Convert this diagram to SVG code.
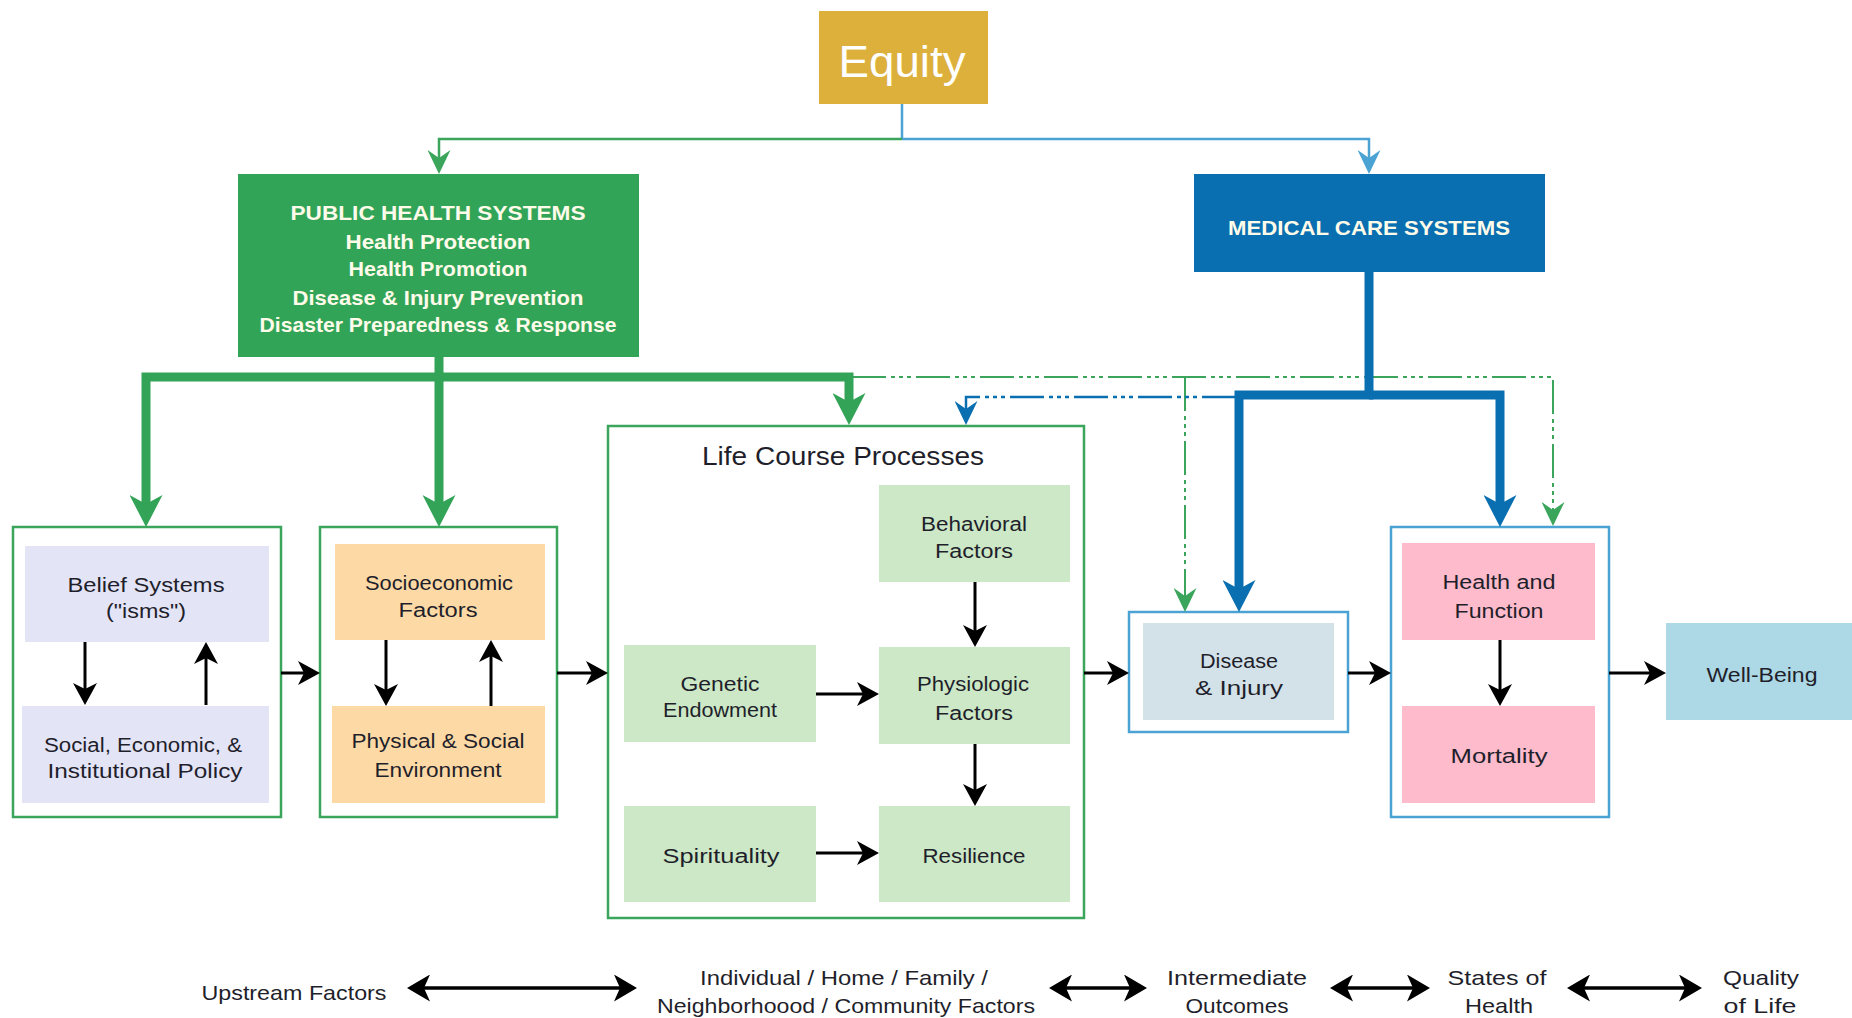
<svg xmlns="http://www.w3.org/2000/svg" width="1852" height="1018" viewBox="0 0 1852 1018">
  <style>
    text { font-family: "Liberation Sans", Arial, sans-serif; text-anchor: middle; }
    .t { font-size: 20px; fill: #1f1f2b; }
    .hdr { font-size: 21px; font-weight: bold; fill: #fffbea; }
    .bot { font-size: 21px; fill: #1f1f2b; }
    .frameG { fill: #ffffff; stroke: #3ba55c; stroke-width: 2.5; }
    .frameB { fill: #ffffff; stroke: #4ba3d3; stroke-width: 2.5; }
    .thickG { fill: none; stroke: #33a457; stroke-width: 9; }
    .thickB { fill: none; stroke: #0a6fb0; stroke-width: 9; }
    .thinG { fill: none; stroke: #3ba55c; stroke-width: 2.5; }
    .thinL { fill: none; stroke: #4ba3d3; stroke-width: 2.5; }
    .dashG { fill: none; stroke: #3ba55c; stroke-width: 2; stroke-dasharray: 34 5 4 4 4 4 4 5; }
    .dashB { fill: none; stroke: #0a6fb0; stroke-width: 2.5; stroke-dasharray: 34 5 4 4 4 4 4 5; }
    .blk { fill: none; stroke: #000000; stroke-width: 3; }
    .bi { fill: none; stroke: #000000; stroke-width: 3.5; }
  </style>
  <defs>
    <marker id="bigG" markerUnits="userSpaceOnUse" viewBox="0 0 32 33" markerWidth="32" markerHeight="33" refX="11" refY="16.5" orient="auto">
      <path d="M0,0 L32,16.5 L0,33 L9,16.5 z" fill="#33a457"/>
    </marker>
    <marker id="bigB" markerUnits="userSpaceOnUse" viewBox="0 0 32 33" markerWidth="32" markerHeight="33" refX="11" refY="16.5" orient="auto">
      <path d="M0,0 L32,16.5 L0,33 L9,16.5 z" fill="#0a6fb0"/>
    </marker>
    <marker id="medG" markerUnits="userSpaceOnUse" viewBox="0 0 24 23" markerWidth="24" markerHeight="23" refX="10" refY="11.5" orient="auto">
      <path d="M0,0 L24,11.5 L0,23 L8,11.5 z" fill="#3ba55c"/>
    </marker>
    <marker id="medL" markerUnits="userSpaceOnUse" viewBox="0 0 24 23" markerWidth="24" markerHeight="23" refX="10" refY="11.5" orient="auto">
      <path d="M0,0 L24,11.5 L0,23 L8,11.5 z" fill="#4ba3d3"/>
    </marker>
    <marker id="medB" markerUnits="userSpaceOnUse" viewBox="0 0 24 23" markerWidth="24" markerHeight="23" refX="10" refY="11.5" orient="auto">
      <path d="M0,0 L24,11.5 L0,23 L8,11.5 z" fill="#0a6fb0"/>
    </marker>
    <marker id="blk" markerUnits="userSpaceOnUse" viewBox="0 0 22 24" markerWidth="22" markerHeight="24" refX="8" refY="12" orient="auto">
      <path d="M0,0 L22,12 L0,24 L6,12 z" fill="#000000"/>
    </marker>
    <marker id="bi" markerUnits="userSpaceOnUse" viewBox="0 0 23 27" markerWidth="23" markerHeight="27" refX="8" refY="13.5" orient="auto-start-reverse">
      <path d="M0,0 L23,13.5 L0,27 L6,13.5 z" fill="#000000"/>
    </marker>
  </defs>

  <rect width="1852" height="1018" fill="#ffffff"/>

  <g id="equity">
    <rect x="819" y="11" width="169" height="93" fill="#ddb03c"/>
    <text x="902" y="77" font-size="44" fill="#ffffff" textLength="127" lengthAdjust="spacingAndGlyphs">Equity</text>
  </g>

  <g id="public-health">
    <rect x="238" y="174" width="401" height="183" fill="#32a457"/>
    <text class="hdr" x="438" y="220" textLength="295" lengthAdjust="spacingAndGlyphs">PUBLIC HEALTH SYSTEMS</text>
    <text class="hdr" x="438" y="249" textLength="185" lengthAdjust="spacingAndGlyphs">Health Protection</text>
    <text class="hdr" x="438" y="276" textLength="179" lengthAdjust="spacingAndGlyphs">Health Promotion</text>
    <text class="hdr" x="438" y="305" textLength="291" lengthAdjust="spacingAndGlyphs">Disease &amp; Injury Prevention</text>
    <text class="hdr" x="438" y="332" textLength="357" lengthAdjust="spacingAndGlyphs">Disaster Preparedness &amp; Response</text>
  </g>

  <g id="medical-care">
    <rect x="1194" y="174" width="351" height="98" fill="#0a6fb0"/>
    <text class="hdr" x="1369" y="235" textLength="282" lengthAdjust="spacingAndGlyphs">MEDICAL CARE SYSTEMS</text>
  </g>

  <g id="belief-policy">
    <rect class="frameG" x="13" y="527" width="268" height="290"/>
    <rect x="25" y="546" width="244" height="96" fill="#e4e4f7"/>
    <rect x="22" y="706" width="247" height="97" fill="#e4e4f7"/>
    <text class="t" x="146" y="592" textLength="157" lengthAdjust="spacingAndGlyphs">Belief Systems</text>
    <text class="t" x="146" y="618" textLength="80" lengthAdjust="spacingAndGlyphs">("isms")</text>
    <text class="t" x="143" y="752" textLength="198" lengthAdjust="spacingAndGlyphs">Social, Economic, &amp;</text>
    <text class="t" x="145" y="778" textLength="195" lengthAdjust="spacingAndGlyphs">Institutional Policy</text>
  </g>

  <g id="socio-environment">
    <rect class="frameG" x="320" y="527" width="237" height="290"/>
    <rect x="335" y="544" width="210" height="96" fill="#fdd9a5"/>
    <rect x="332" y="706" width="213" height="97" fill="#fdd9a5"/>
    <text class="t" x="439" y="590" textLength="148" lengthAdjust="spacingAndGlyphs">Socioeconomic</text>
    <text class="t" x="438" y="617" textLength="79" lengthAdjust="spacingAndGlyphs">Factors</text>
    <text class="t" x="438" y="748" textLength="173" lengthAdjust="spacingAndGlyphs">Physical &amp; Social</text>
    <text class="t" x="438" y="777" textLength="127" lengthAdjust="spacingAndGlyphs">Environment</text>
  </g>

  <g id="life-course">
    <rect class="frameG" x="608" y="426" width="476" height="492"/>
    <text x="843" y="465" font-size="26" fill="#1f1f2b" textLength="282" lengthAdjust="spacingAndGlyphs">Life Course Processes</text>
    <rect x="879" y="485" width="191" height="97" fill="#cce8c6"/>
    <rect x="879" y="647" width="191" height="97" fill="#cce8c6"/>
    <rect x="879" y="806" width="191" height="96" fill="#cce8c6"/>
    <rect x="624" y="645" width="192" height="97" fill="#cce8c6"/>
    <rect x="624" y="806" width="192" height="96" fill="#cce8c6"/>
    <text class="t" x="974" y="531" textLength="106" lengthAdjust="spacingAndGlyphs">Behavioral</text>
    <text class="t" x="974" y="558" textLength="78" lengthAdjust="spacingAndGlyphs">Factors</text>
    <text class="t" x="973" y="691" textLength="112" lengthAdjust="spacingAndGlyphs">Physiologic</text>
    <text class="t" x="974" y="720" textLength="78" lengthAdjust="spacingAndGlyphs">Factors</text>
    <text class="t" x="720" y="691" textLength="79" lengthAdjust="spacingAndGlyphs">Genetic</text>
    <text class="t" x="720" y="717" textLength="114" lengthAdjust="spacingAndGlyphs">Endowment</text>
    <text class="t" x="721" y="863" textLength="117" lengthAdjust="spacingAndGlyphs">Spirituality</text>
    <text class="t" x="974" y="863" textLength="103" lengthAdjust="spacingAndGlyphs">Resilience</text>
  </g>

  <g id="disease-injury">
    <rect class="frameB" x="1129" y="612" width="219" height="120"/>
    <rect x="1143" y="623" width="191" height="97" fill="#d3e2e9"/>
    <text class="t" x="1239" y="668" textLength="78" lengthAdjust="spacingAndGlyphs">Disease</text>
    <text class="t" x="1239" y="695" textLength="88" lengthAdjust="spacingAndGlyphs">&amp; Injury</text>
  </g>

  <g id="health-mortality">
    <rect class="frameB" x="1391" y="527" width="218" height="290"/>
    <rect x="1402" y="543" width="193" height="97" fill="#fdbbcb"/>
    <rect x="1402" y="706" width="193" height="97" fill="#fdbbcb"/>
    <text class="t" x="1499" y="589" textLength="113" lengthAdjust="spacingAndGlyphs">Health and</text>
    <text class="t" x="1499" y="618" textLength="89" lengthAdjust="spacingAndGlyphs">Function</text>
    <text class="t" x="1499" y="763" textLength="97" lengthAdjust="spacingAndGlyphs">Mortality</text>
  </g>

  <g id="well-being">
    <rect x="1666" y="623" width="186" height="97" fill="#add8e6"/>
    <text class="t" x="1762" y="682" textLength="111" lengthAdjust="spacingAndGlyphs">Well-Being</text>
  </g>

  <g id="scale-labels">
    <text class="bot" x="294" y="1000" textLength="185" lengthAdjust="spacingAndGlyphs">Upstream Factors</text>
    <text class="bot" x="844" y="985" textLength="288" lengthAdjust="spacingAndGlyphs">Individual / Home / Family /</text>
    <text class="bot" x="846" y="1013" textLength="378" lengthAdjust="spacingAndGlyphs">Neighborhoood / Community Factors</text>
    <text class="bot" x="1237" y="985" textLength="140" lengthAdjust="spacingAndGlyphs">Intermediate</text>
    <text class="bot" x="1237" y="1013" textLength="103" lengthAdjust="spacingAndGlyphs">Outcomes</text>
    <text class="bot" x="1497" y="985" textLength="99" lengthAdjust="spacingAndGlyphs">States of</text>
    <text class="bot" x="1499" y="1013" textLength="68" lengthAdjust="spacingAndGlyphs">Health</text>
    <text class="bot" x="1761" y="985" textLength="76" lengthAdjust="spacingAndGlyphs">Quality</text>
    <text class="bot" x="1760" y="1013" textLength="73" lengthAdjust="spacingAndGlyphs">of Life</text>
  </g>

  <!-- connectors, drawn above the framed boxes so inner arrows stay visible -->
  <g id="connectors">
    <!-- Equity to the two systems -->
    <path class="thinL" d="M902,104 V139"/>
    <path class="thinG" d="M902,139 H439 V160" marker-end="url(#medG)"/>
    <path class="thinL" d="M902,139 H1369 V160" marker-end="url(#medL)"/>

    <!-- public health system branches -->
    <path class="dashG" d="M852,377 H1553 V512" marker-end="url(#medG)"/>
    <path class="dashG" d="M1185,377 V598" marker-end="url(#medG)"/>
    <path class="thickG" d="M439,357 V377 H146 V506" marker-end="url(#bigG)"/>
    <path class="thickG" d="M439,377 V506" marker-end="url(#bigG)"/>
    <path class="thickG" d="M439,377 H849 V404" marker-end="url(#bigG)"/>

    <!-- medical care system branches -->
    <path class="dashB" d="M1236,397 H966 V411" marker-end="url(#medB)"/>
    <path class="thickB" d="M1369,272 V395 H1239 V591" marker-end="url(#bigB)"/>
    <path class="thickB" d="M1369,395 H1500 V506" marker-end="url(#bigB)"/>

    <!-- flow between stages -->
    <path class="blk" d="M85,642 V691" marker-end="url(#blk)"/>
    <path class="blk" d="M206,705 V656" marker-end="url(#blk)"/>
    <path class="blk" d="M386,640 V692" marker-end="url(#blk)"/>
    <path class="blk" d="M491,706 V654" marker-end="url(#blk)"/>
    <path class="blk" d="M281,673 H306" marker-end="url(#blk)"/>
    <path class="blk" d="M557,673 H594" marker-end="url(#blk)"/>
    <path class="blk" d="M975,582 V633" marker-end="url(#blk)"/>
    <path class="blk" d="M975,744 V792" marker-end="url(#blk)"/>
    <path class="blk" d="M816,694 H865" marker-end="url(#blk)"/>
    <path class="blk" d="M816,853 H865" marker-end="url(#blk)"/>
    <path class="blk" d="M1084,673 H1115" marker-end="url(#blk)"/>
    <path class="blk" d="M1348,673 H1377" marker-end="url(#blk)"/>
    <path class="blk" d="M1500,640 V692" marker-end="url(#blk)"/>
    <path class="blk" d="M1609,673 H1652" marker-end="url(#blk)"/>

    <!-- scale along the bottom -->
    <path class="bi" d="M422,988 H622" marker-start="url(#bi)" marker-end="url(#bi)"/>
    <path class="bi" d="M1064,988 H1132" marker-start="url(#bi)" marker-end="url(#bi)"/>
    <path class="bi" d="M1345,988 H1415" marker-start="url(#bi)" marker-end="url(#bi)"/>
    <path class="bi" d="M1582,988 H1687" marker-start="url(#bi)" marker-end="url(#bi)"/>
  </g>
</svg>
